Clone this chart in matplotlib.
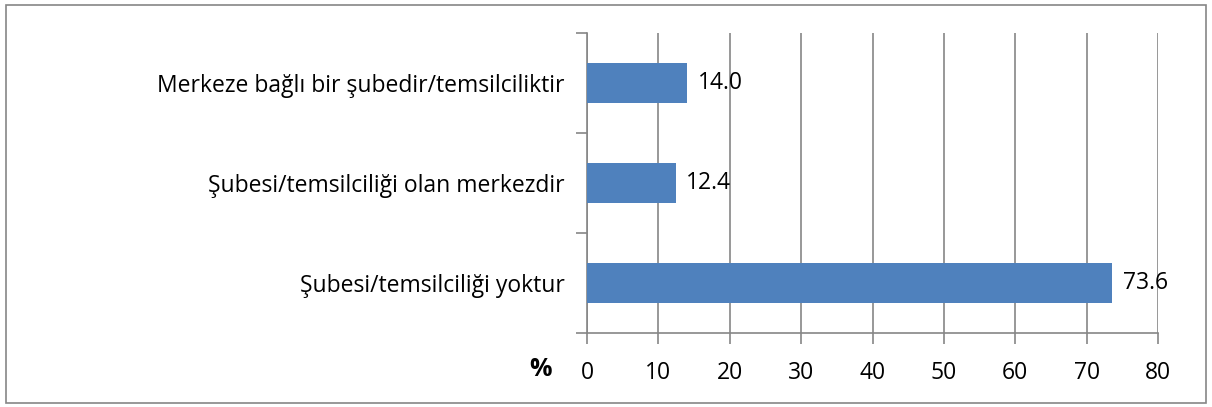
import matplotlib.pyplot as plt
from matplotlib.patches import Rectangle

# ==============================
# DATA
# ==============================
categories = [
    "Şubesi/temsilciliği yoktur",
    "Şubesi/temsilciliği olan merkezdir",
    "Merkeze bağlı bir şubedir/temsilciliktir",
]
values = [73.6, 12.4, 14.0]
x_ticks = [0, 10, 20, 30, 40, 50, 60, 70, 80]

BAR_COLOR = "#4F81BD"
GRID_COLOR = "#868686"
FS = 16.5

plt.rcParams["font.family"] = ["Open Sans", "DejaVu Sans"]

fig = plt.figure(figsize=(12.12, 4.07), dpi=100)
ax = fig.add_axes([587 / 1212, 1 - 333 / 407, (1158 - 587) / 1212, 300 / 407])

pos = list(range(len(categories)))
ax.barh(pos, values, height=0.4, color=BAR_COLOR, zorder=3)

for p, v in zip(pos, values):
    ax.text(v + 1.5, p, f"{v:.1f}", va="center", ha="left", fontsize=FS, zorder=4)

ax.set_xlim(0, 80)
ax.set_ylim(-0.5, 2.5)
ax.set_xticks(x_ticks)
ax.set_xticklabels([str(t) for t in x_ticks], fontsize=FS)

# category labels between boundary ticks
ax.set_yticks([-0.5, 0.5, 1.5, 2.5])
ax.set_yticklabels([])
ax.set_yticks(pos, minor=True)
ax.set_yticklabels(categories, minor=True, fontsize=FS)
ax.tick_params(axis="y", which="minor", length=0, pad=16)
ax.tick_params(axis="y", which="major", length=8, color=GRID_COLOR, width=1.2)
ax.tick_params(axis="x", length=8, color=GRID_COLOR, width=1.2, pad=12)

ax.grid(axis="x", color=GRID_COLOR, linewidth=1.2, zorder=0)
for s in ["top", "right"]:
    ax.spines[s].set_visible(False)
for s in ["left", "bottom"]:
    ax.spines[s].set_color(GRID_COLOR)
    ax.spines[s].set_linewidth(1.2)

fig.text(541 / 1212, 1 - 370 / 407, "%", fontsize=18, fontweight="bold",
         ha="center", va="center")

# outer chart border
fig.patches.append(Rectangle((6 / 1212, 4 / 407), 1200 / 1212, 398 / 407,
                             transform=fig.transFigure, fill=False,
                             edgecolor=GRID_COLOR, linewidth=1.2))

plt.savefig("out.png", dpi=100)
plt.close()
